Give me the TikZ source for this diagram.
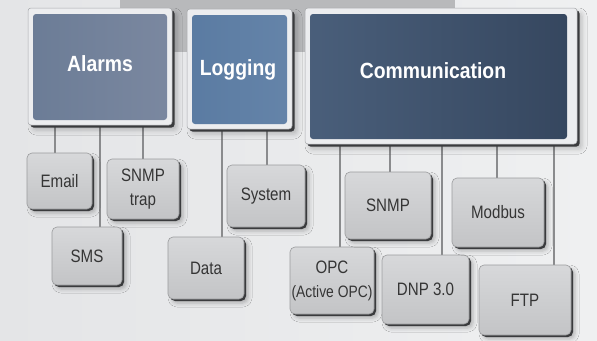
\documentclass[tikz,border=0pt]{standalone}
\usepackage{fontspec}
\newfontfamily\headfont[FakeStretch=0.88]{Liberation Sans}
\newfontfamily\boxfont[FakeStretch=0.84]{Liberation Sans}
\usetikzlibrary{shadows,shadows.blur}

\definecolor{bgL}{HTML}{E4E5E7}
\definecolor{bgR}{HTML}{EFF0F1}
\definecolor{band}{HTML}{B8B9BB}
\definecolor{framecol}{HTML}{ECEDEF}
\definecolor{framerim}{HTML}{A6A8AB}
\definecolor{edgedark}{HTML}{3A3B3D}
\definecolor{alarmsL}{HTML}{6B7C96}
\definecolor{alarmsR}{HTML}{7B88A0}
\definecolor{loggingL}{HTML}{5A7BA2}
\definecolor{loggingR}{HTML}{6584A9}
\definecolor{commL}{HTML}{4A5F7B}
\definecolor{commR}{HTML}{35465E}
\definecolor{celltop}{HTML}{D7D8DA}
\definecolor{cellbot}{HTML}{C3C4C6}
\definecolor{cellrim}{HTML}{9A9B9D}
\definecolor{celltext}{HTML}{353535}
\definecolor{linkcol}{HTML}{8A8B8D}

\pgfdeclarelayer{back}
\pgfsetlayers{back,main}

\tikzset{
  x=1pt, y=-1pt,
  % framed display panel; #1/#2 = face colours, #3 = right inset of the face
  panel/.style n args={3}{
    rounded corners=3pt, fill=framecol, draw=framerim, line width=0.5pt,
    inner sep=0pt,
    blur shadow={shadow xshift=5pt, shadow yshift=-5pt, shadow blur radius=5pt, shadow opacity=22},
    drop shadow={shadow xshift=2.5pt, shadow yshift=-2.5pt, fill=edgedark, opacity=1},
    path picture={
      \shade[left color=#1, right color=#2]
        ([shift={(5pt,-6pt)}]path picture bounding box.north west)
        rectangle ([shift={(-#3,5pt)}]path picture bounding box.south east);
    }
  },
  title/.style={text=white, inner sep=0pt,
    font=\headfont\bfseries\fontsize{22}{24}\selectfont},
  cell/.style={
    rounded corners=5pt, draw=cellrim, line width=0.6pt,
    top color=celltop, bottom color=cellbot, inner sep=0pt,
    blur shadow={shadow xshift=4pt, shadow yshift=-4pt, shadow blur radius=4pt, shadow opacity=25},
    drop shadow={shadow xshift=2pt, shadow yshift=-2pt, fill=edgedark, opacity=1},
    text=celltext, align=center,
    font=\boxfont\fontsize{18}{24}\selectfont
  },
  link/.style={draw=linkcol, line width=2pt}
}

\begin{document}
\begin{tikzpicture}
\useasboundingbox (0,0) rectangle (597,340);

% top panels
\node[panel={alarmsL}{alarmsR}{5pt}, minimum width=144pt, minimum height=117pt] (alarms) at (100,66.5) {};
\node[panel={loggingL}{loggingR}{5pt}, minimum width=105pt, minimum height=120pt] (logging) at (239.5,69) {};
\node[panel={commL}{commR}{10pt}, minimum width=272pt, minimum height=136pt] (comm) at (441,76) {};

\node[title] (alarmstitle) at (100,64) {Alarms};
\node[title] (loggingtitle) at (238,70) {Logging};
\node[title] (commtitle) at (433,71) {Communication};

% leaf boxes
\node[cell, minimum width=65pt, minimum height=56pt] (email) at (59.5,181) {Email};
\node[cell, minimum width=72pt, minimum height=60pt] (trap) at (143,189) {SNMP\\trap};
\node[cell, minimum width=70pt, minimum height=58pt] (sms) at (87,256) {SMS};
\node[cell, minimum width=76pt, minimum height=62pt] (data) at (206,268) {Data};
\node[cell, minimum width=78pt, minimum height=62pt] (system) at (266,196) {System};
\node[cell, minimum width=84pt, minimum height=67pt] (opc) at (332,280.5) {OPC\\{\fontsize{16.5}{24}\selectfont(Active OPC)}};
\node[cell, minimum width=86pt, minimum height=67pt] (snmp) at (388,205.5) {SNMP};
\node[cell, minimum width=87pt, minimum height=69pt] (dnp) at (425.5,289.5) {DNP 3.0};
\node[cell, minimum width=92pt, minimum height=69pt] (modbus) at (498,212.5) {Modbus};
\node[cell, minimum width=92pt, minimum height=70pt] (ftp) at (525,300) {FTP};

\begin{pgfonlayer}{back}
  % backdrop
  \shade[left color=bgL, right color=bgR] (0,0) rectangle (597,340);
  \fill[band] (120,0) rectangle (455,52);
  % stems from the panels down to their boxes
  \draw[link] ([xshift=-4.5pt]email.north) -- ([xshift=-4.5pt]email.north |- alarms.south);
  \draw[link] ([xshift=13pt]sms.north) -- ([xshift=13pt]sms.north |- alarms.south);
  \draw[link] (trap.north) -- (trap.north |- alarms.south);
  \draw[link] ([xshift=16pt]data.north) -- ([xshift=16pt]data.north |- logging.south);
  \draw[link] ([xshift=1pt]system.north) -- ([xshift=1pt]system.north |- logging.south);
  \draw[link] ([xshift=8pt]opc.north) -- ([xshift=8pt]opc.north |- comm.south);
  \draw[link] ([xshift=2pt]snmp.north) -- ([xshift=2pt]snmp.north |- comm.south);
  \draw[link] ([xshift=16.5pt]dnp.north) -- ([xshift=16.5pt]dnp.north |- comm.south);
  \draw[link] ([xshift=-1pt]modbus.north) -- ([xshift=-1pt]modbus.north |- comm.south);
  \draw[link] ([xshift=29pt]ftp.north) -- ([xshift=29pt]ftp.north |- comm.south);
\end{pgfonlayer}
\end{tikzpicture}
\end{document}
